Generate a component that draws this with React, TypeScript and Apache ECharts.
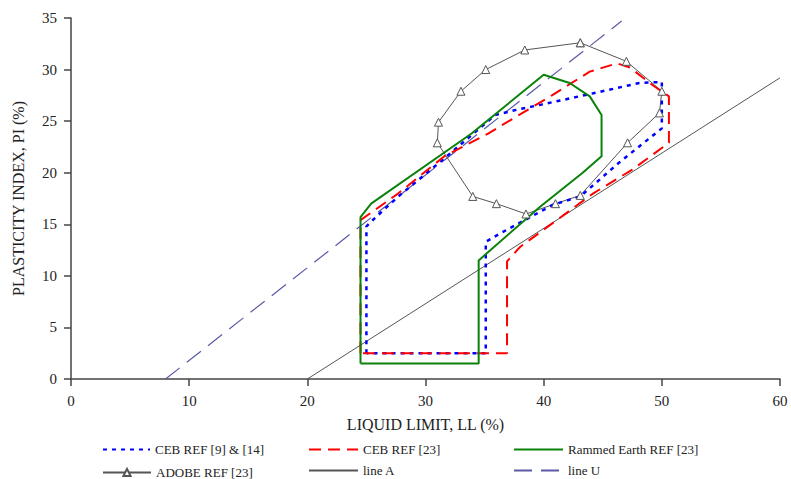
import React, { useEffect, useRef } from "react";
import * as echarts from "echarts";

// [LL, PI] pairs
const cebRef9and14: number[][] = [
  [25, 2.5], [25, 14.8], [25.9, 15.8], [27.7, 17.7], [31.4, 21.2], [35.9, 25.6], [38.1, 26.2],
  [39.8, 26.6], [44.2, 27.7], [48.1, 28.7], [50, 28.8], [50, 24.3], [46.4, 21], [43.1, 17.7],
  [40.8, 16.9], [36.3, 14.1], [35.1, 13.3], [35.1, 2.5], [25, 2.5],
];
const cebRef23: number[][] = [
  [24.5, 2.5], [24.5, 15.4], [27.7, 18], [31.6, 21.6], [35.3, 23.8], [40.7, 27.5], [43.9, 29.8],
  [46.2, 30.6], [47.3, 30.2], [49.2, 28.5], [50.6, 27.4], [50.6, 22.9], [47.5, 20.3], [44.2, 18],
  [38, 12.8], [36.9, 11.4], [36.9, 2.5], [24.5, 2.5],
];
const rammedEarth: number[][] = [
  [24.5, 1.5], [24.5, 15.7], [25.4, 17], [33.9, 23.8], [40, 29.5], [42.2, 28.7], [43.9, 27.4],
  [44.9, 25.6], [44.9, 21.6], [43.3, 20], [39.7, 16.7], [34.5, 11.5], [34.5, 1.5], [24.5, 1.5],
];
const adobe: number[][] = [
  [43.1, 32.6], [47, 30.8], [50, 27.9], [49.8, 25.8], [47.1, 22.9], [43.1, 17.8], [41, 17],
  [38.5, 16], [36, 17], [34, 17.7], [31, 22.9], [31.1, 24.9], [33, 27.9], [35.1, 30],
  [38.4, 31.9], [43.1, 32.6],
];
const lineA: number[][] = [[20, 0], [60, 29.2]];
const lineU: number[][] = [[8, 0], [46.6, 34.7]];

const names = [
  "CEB REF [9] & [14]",
  "CEB REF [23]",
  "Rammed Earth REF [23]",
  "ADOBE REF [23]",
  "line A",
  "line U",
];

const FONT = "'Liberation Serif', 'DejaVu Serif', serif";

export default function App() {
  const ref = useRef<HTMLDivElement>(null);
  useEffect(() => {
    if (!ref.current) return;
    const chart = echarts.init(ref.current, undefined, { renderer: "svg" });
    const legendText = { fontFamily: FONT, fontSize: 13, color: "#222" };
    const hidden = { color: "rgba(0,0,0,0)", borderColor: "rgba(0,0,0,0)", borderWidth: 0 };
    const mkLegend = (name: string, left: number, top: number, w: number, h: number, hideSym: boolean) => ({
      data: [hideSym ? { name, itemStyle: hidden } : { name }],
      orient: "horizontal",
      left,
      top,
      padding: 0,
      itemWidth: w,
      itemHeight: h,
      selectedMode: false,
      textStyle: legendText,
    });
    const axisCommon = {
      axisLine: { show: true, onZero: false, lineStyle: { color: "#444", width: 1.5 } },
      axisTick: { show: true, inside: false, length: 7, lineStyle: { color: "#444", width: 1.5 } },
      splitLine: { show: false },
      nameLocation: "middle" as const,
      nameTextStyle: { fontFamily: FONT, fontSize: 16, color: "#222" },
      axisLabel: { fontFamily: FONT, fontSize: 15, color: "#222", margin: 14 },
    };
    chart.setOption({
      animation: false,
      backgroundColor: "#fff",
      grid: { left: 71, right: 11, top: 18, bottom: 100, containLabel: false, outerBoundsMode: "none" },
      xAxis: {
        type: "value",
        min: 0,
        max: 60,
        interval: 10,
        name: "LIQUID LIMIT, LL (%)",
        nameGap: 37,
        ...axisCommon,
      },
      yAxis: {
        type: "value",
        min: 0,
        max: 35,
        interval: 5,
        name: "PLASTICITY INDEX, PI (%)",
        nameGap: 45,
        nameRotate: 90,
        ...axisCommon,
      },
      legend: [
        mkLegend(names[0], 102, 443, 47, 14, true),
        mkLegend(names[1], 308, 443, 49, 14, true),
        mkLegend(names[2], 513, 443, 49, 14, true),
        mkLegend(names[3], 102, 466, 48, 9, false),
        mkLegend(names[4], 308, 464, 49, 14, true),
        mkLegend(names[5], 513, 464, 49, 14, true),
      ],
      series: [
        {
          name: names[4],
          type: "line",
          data: lineA,
          symbol: "none",
          lineStyle: { color: "#555", width: 1 },
          itemStyle: { color: "#555" },
        },
        {
          name: names[5],
          type: "line",
          data: lineU,
          symbol: "none",
          lineStyle: { color: "#5a5aa8", width: 1.2, type: [18, 9] },
          itemStyle: { color: "#5a5aa8" },
        },
        {
          name: names[3],
          type: "line",
          data: adobe,
          symbol: "triangle",
          symbolSize: 8,
          showAllSymbol: true,
          lineStyle: { color: "#555", width: 1 },
          itemStyle: { color: "#fff", borderColor: "#555", borderWidth: 1 },
        },
        {
          name: names[0],
          type: "line",
          data: cebRef9and14,
          symbol: "none",
          lineStyle: { color: "#0000ff", width: 2.5, type: [4, 5] },
          itemStyle: { color: "#0000ff" },
        },
        {
          name: names[1],
          type: "line",
          data: cebRef23,
          symbol: "none",
          lineStyle: { color: "#ff0000", width: 2, type: [12, 7] },
          itemStyle: { color: "#ff0000" },
        },
        {
          name: names[2],
          type: "line",
          data: rammedEarth,
          symbol: "none",
          lineStyle: { color: "#0a820a", width: 2 },
          itemStyle: { color: "#0a820a" },
        },
      ],
    });
    return () => chart.dispose();
  }, []);
  return (
    <div
      ref={ref}
      style={{ position: "fixed", left: 0, top: 0, width: 791, height: 479, background: "#fff" }}
    />
  );
}
